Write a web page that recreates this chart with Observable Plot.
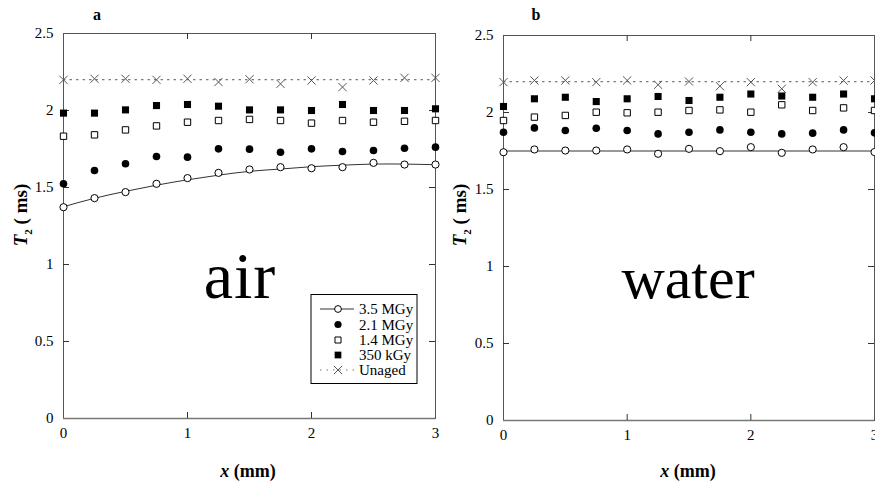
<!DOCTYPE html>
<html><head><meta charset="utf-8">
<script src="https://cdn.jsdelivr.net/npm/d3@7"></script>
<script src="https://cdn.jsdelivr.net/npm/@observablehq/plot@0.6"></script>
<style>
html,body{margin:0;padding:0;background:#fff;}
#chart{position:relative;width:875px;height:489px;overflow:hidden;background:#fff;}
#chart svg{position:absolute;top:0;overflow:visible;}
#chart svg text{font-family:"Liberation Serif", serif;}
</style></head><body><div id="chart"></div>
<script>
// ---- data ----
const positions = [0,0.25,0.5,0.75,1,1.25,1.5,1.75,2,2.25,2.5,2.75,3];
const seriesNames = ["3.5 MGy","2.1 MGy","1.4 MGy","350 kGy","Unaged"];
const xTicks = [0,1,2,3];
const yTicks = [0,0.5,1,1.5,2,2.5];
const xInnerTicks = [1,2];
const yInnerTicks = [0.5,1,1.5,2];

// panel a : air
const air35  = [1.372,1.431,1.470,1.524,1.561,1.595,1.617,1.632,1.625,1.632,1.660,1.649,1.649];
const air21  = [1.524,1.610,1.654,1.701,1.697,1.751,1.749,1.729,1.751,1.734,1.740,1.755,1.762];
const air14  = [1.833,1.842,1.874,1.900,1.924,1.935,1.942,1.935,1.918,1.935,1.924,1.930,1.935];
const air350 = [1.983,1.983,2.004,2.032,2.039,2.028,2.004,2.004,2.000,2.039,2.000,2.000,2.011];
const airUnaged = [2.199,2.206,2.206,2.199,2.206,2.185,2.203,2.173,2.195,2.152,2.195,2.212,2.212];
const airFit35  = [1.375,1.430,1.475,1.515,1.550,1.580,1.605,1.620,1.635,1.645,1.652,1.652,1.648];

// panel b : water
const water35  = [1.742,1.760,1.753,1.753,1.760,1.732,1.764,1.749,1.775,1.738,1.760,1.775,1.743];
const water21  = [1.872,1.900,1.883,1.898,1.883,1.861,1.872,1.887,1.872,1.861,1.866,1.887,1.868];
const water14  = [1.948,1.970,1.981,2.002,1.998,2.002,2.013,2.017,2.002,2.050,2.013,2.030,2.013];
const water350 = [2.039,2.089,2.099,2.071,2.089,2.104,2.078,2.099,2.120,2.107,2.099,2.120,2.089];
const waterUnaged = [2.197,2.208,2.208,2.197,2.208,2.180,2.201,2.171,2.197,2.154,2.197,2.208,2.208];
const waterFit35X = [0,3];
const waterFit35  = [1.75,1.75];

const unagedFitX = [0,3];
const unagedFit  = [2.2,2.2];

// ---- drawing ----
const FONT = "Liberation Serif, serif";
const rows = (xs, ys) => xs.map((x,i)=>({x, y: ys[i]}));

function panel({left, mL, mR, mT, mB, s35, s21, s14, s350, sUn, fit35X, fit35, fitCurve, word, wordX, wordSize, wordSpacing, letter, letterX, yLabX, xLabX, legend}) {
  const W = 437, H = 489;
  const pw = W - mL - mR, ph = H - mT - mB;
  const svg = Plot.plot({
    width: W, height: H,
    marginLeft: mL, marginRight: mR, marginTop: mT, marginBottom: mB,
    style: {fontFamily: FONT, fontSize: "15px", color: "#000", background: "transparent", overflow: "visible"},
    x: {domain: [0,3]},
    y: {domain: [0,2.5]},
    marks: [
      Plot.frame({stroke: "#555", strokeWidth: 1}),
      Plot.ruleY([0], {stroke: "#777", strokeWidth: 1.6}),
      Plot.axisX(xTicks, {tickSize: 0, tickPadding: 9, tickFormat: d => String(d), fontSize: 15, fontFamily: FONT, label: null}),
      Plot.axisY(yTicks, {tickSize: 0, tickPadding: 10, tickFormat: d => String(d), fontSize: 15, fontFamily: FONT, label: null}),
      Plot.tickX(xInnerTicks, {x: d => d, insetBottom: ph - 6, stroke: "#333"}),
      Plot.tickX(xInnerTicks, {x: d => d, insetTop: ph - 6, stroke: "#333"}),
      Plot.tickY(yInnerTicks, {y: d => d, insetRight: pw - 6, stroke: "#333"}),
      Plot.tickY(yInnerTicks, {y: d => d, insetLeft: pw - 6, stroke: "#333"}),
      Plot.line(rows(unagedFitX, unagedFit), {x: "x", y: "y", stroke: "#777", strokeWidth: 1.2, strokeDasharray: "1.5,5"}),
      Plot.line(rows(fit35X, fit35), {x: "x", y: "y", stroke: "#333", strokeWidth: 1, curve: fitCurve}),
      Plot.dot(rows(positions, sUn), {x: "x", y: "y", symbol: "times", r: 3.8, stroke: "#555", strokeWidth: 1}),
      Plot.dot(rows(positions, s350), {x: "x", y: "y", symbol: "square", r: 4, fill: "#000", stroke: "none"}),
      Plot.dot(rows(positions, s14), {x: "x", y: "y", symbol: "square", r: 3.6, fill: "#fff", stroke: "#000", strokeWidth: 1}),
      Plot.dot(rows(positions, s21), {x: "x", y: "y", symbol: "circle", r: 3.8, fill: "#000", stroke: "none"}),
      Plot.dot(rows(positions, s35), {x: "x", y: "y", symbol: "circle", r: 3.6, fill: "#fff", stroke: "#000", strokeWidth: 1})
    ]
  });
  svg.style.left = left + "px";
  const g = d3.select(svg);

  // panel letter
  g.append("text").attr("x", letterX).attr("y", 20).attr("text-anchor", "middle")
    .attr("font-family", FONT).attr("font-weight", "bold").attr("font-size", 16).text(letter);

  // y axis label  T2 ( ms)
  const yl = g.append("text").attr("transform", `translate(${yLabX},215) rotate(-90)`)
    .attr("text-anchor", "middle").attr("font-family", FONT).attr("font-weight", "bold").attr("font-size", 19);
  yl.append("tspan").attr("font-style", "italic").text("T");
  yl.append("tspan").attr("font-size", 11).attr("dy", 5).text("2");
  yl.append("tspan").attr("dy", -5).text(" ( ms)");

  // x axis label  x (mm)
  const xl = g.append("text").attr("x", xLabX).attr("y", 477).attr("text-anchor", "middle")
    .attr("font-family", FONT).attr("font-weight", "bold").attr("font-size", 18);
  xl.append("tspan").attr("font-style", "italic").text("x");
  xl.append("tspan").text(" (mm)");

  // big word
  g.append("text").attr("x", wordX).attr("y", 298).attr("text-anchor", "middle")
    .attr("font-family", FONT).attr("font-size", wordSize).attr("letter-spacing", wordSpacing).text(word);

  if (legend) {
    const L = g.append("g");
    L.append("rect").attr("x", 311).attr("y", 294.5).attr("width", 106).attr("height", 89)
      .attr("fill", "#fff").attr("stroke", "#000").attr("stroke-width", 1);
    const rowY = [309, 324.5, 340, 355, 370];
    const sx = 338;
    const sym = (type, size) => d3.symbol(type, size)();
    seriesNames.forEach((name, i) => {
      const y = rowY[i];
      if (i === 0) {
        L.append("line").attr("x1", 320).attr("x2", 354).attr("y1", y).attr("y2", y).attr("stroke", "#333");
        L.append("path").attr("d", sym(d3.symbolCircle, Math.PI*3.4*3.4)).attr("transform", `translate(${sx},${y})`)
          .attr("fill", "#fff").attr("stroke", "#000");
      } else if (i === 1) {
        L.append("path").attr("d", sym(d3.symbolCircle, Math.PI*3.6*3.6)).attr("transform", `translate(${sx},${y})`).attr("fill", "#000");
      } else if (i === 2) {
        L.append("path").attr("d", sym(d3.symbolSquare, Math.PI*3.4*3.4)).attr("transform", `translate(${sx},${y})`)
          .attr("fill", "#fff").attr("stroke", "#000");
      } else if (i === 3) {
        L.append("path").attr("d", sym(d3.symbolSquare, Math.PI*3.8*3.8)).attr("transform", `translate(${sx},${y})`).attr("fill", "#000");
      } else {
        L.append("line").attr("x1", 320).attr("x2", 356).attr("y1", y).attr("y2", y)
          .attr("stroke", "#777").attr("stroke-width", 1.2).attr("stroke-dasharray", "1.5,5");
        L.append("path").attr("d", sym(d3.symbolTimes, Math.PI*3.8*3.8)).attr("transform", `translate(${sx},${y})`)
          .attr("fill", "none").attr("stroke", "#555");
      }
      L.append("text").attr("x", 359).attr("y", y + 5).attr("text-anchor", "start")
        .attr("font-family", FONT).attr("font-size", 15).text(name);
    });
  }
  return svg;
}

const chart = document.getElementById("chart");
chart.append(panel({
  left: 0, mL: 63, mR: 2, mT: 33, mB: 71,
  s35: air35, s21: air21, s14: air14, s350: air350, sUn: airUnaged,
  fit35X: positions, fit35: airFit35, fitCurve: "natural",
  word: "air", wordX: 240, wordSize: 66, wordSpacing: 1, letter: "a", letterX: 97, yLabX: 27, xLabX: 248, legend: true
}));
chart.append(panel({
  left: 438, mL: 65, mR: 1, mT: 35, mB: 69,
  s35: water35, s21: water21, s14: water14, s350: water350, sUn: waterUnaged,
  fit35X: waterFit35X, fit35: waterFit35, fitCurve: "linear",
  word: "water", wordX: 250, wordSize: 60, wordSpacing: 0, letter: "b", letterX: 98, yLabX: 28, xLabX: 250, legend: false
}));
</script></body></html>
